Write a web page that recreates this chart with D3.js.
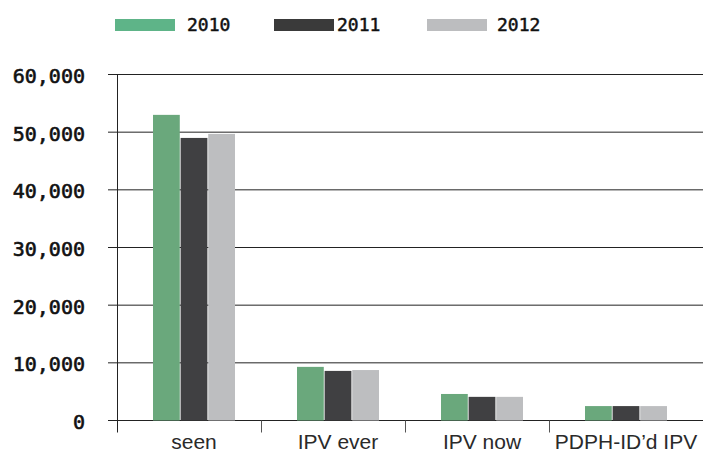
<!DOCTYPE html>
<html>
<head>
<meta charset="utf-8">
<script src="https://cdn.jsdelivr.net/npm/d3@7"></script>
<style>
  body { margin: 0; background: #fff; }
  svg { display: block; }
</style>
</head>
<body>
<div id="chart"></div>
<script>
var categories = ["seen", "IPV ever", "IPV now", "PDPH-ID\u2019d IPV"];
var years = ["2010", "2011", "2012"];
var values2010 = [53000, 9300, 4600, 2500];
var values2011 = [49000, 8600, 4100, 2500];
var values2012 = [49700, 8750, 4100, 2500];
var yTicks = [0, 10000, 20000, 30000, 40000, 50000, 60000];

var barColors = ["#6aa87c", "#404042", "#bdbec0"];
var legendColors = ["#5eb488", "#3a3a3a", "#bcbdbf"];

var width = 703, height = 452;
var plotLeft = 117, plotRight = 693, plotTop = 74.5, plotBottom = 420.5;

var svg = d3.select("#chart").append("svg")
  .attr("width", width)
  .attr("height", height);

// scales
var x0 = d3.scaleBand().domain(categories).range([plotLeft, plotRight]);
var x1 = d3.scaleBand().domain(years).range([0, 82]).paddingInner(0.03);
var y = d3.scaleLinear().domain([0, 60000]).range([plotBottom, plotTop]);

// gridlines
svg.append("g").selectAll("line")
  .data(yTicks)
  .enter().append("line")
  .attr("x1", plotLeft - 9)
  .attr("x2", width)
  .attr("y1", function(d) { return y(d); })
  .attr("y2", function(d) { return y(d); })
  .attr("stroke", "#222")
  .attr("stroke-width", 1);

// y labels
svg.append("g").selectAll("text")
  .data(yTicks)
  .enter().append("text")
  .attr("x", 85)
  .attr("y", function(d) { return y(d); })
  .attr("dy", "0.42em")
  .attr("text-anchor", "end")
  .style("font-family", "'DejaVu Sans Mono', monospace")
  .style("font-size", "20px")
  .style("fill", "#111")
  .style("stroke", "#111")
  .style("stroke-width", "0.6px")
  .text(function(d) { return d3.format(",")(d); });

// y axis line
svg.append("line")
  .attr("x1", plotLeft + 0.5).attr("x2", plotLeft + 0.5)
  .attr("y1", plotTop).attr("y2", plotBottom + 12)
  .attr("stroke", "#222");

// x ticks at category boundaries
svg.append("g").selectAll("line")
  .data(categories.slice(1))
  .enter().append("line")
  .attr("x1", function(d) { return Math.round(x0(d)) + 0.5; })
  .attr("x2", function(d) { return Math.round(x0(d)) + 0.5; })
  .attr("y1", plotBottom)
  .attr("y2", plotBottom + 12)
  .attr("stroke", "#555");

// bars
var series = [values2010, values2011, values2012];
var groups = svg.append("g").selectAll("g")
  .data(categories)
  .enter().append("g")
  .attr("transform", function(d) { return "translate(" + (x0(d) + 36) + ",0)"; });

groups.selectAll("rect")
  .data(function(d, i) { return years.map(function(yr, j) { return {year: yr, value: series[j][i], k: j}; }); })
  .enter().append("rect")
  .attr("x", function(d) { return x1(d.year); })
  .attr("y", function(d) { return y(d.value); })
  .attr("width", x1.bandwidth())
  .attr("height", function(d) { return plotBottom - y(d.value); })
  .attr("fill", function(d) { return barColors[d.k]; });

// x labels
svg.append("g").selectAll("text")
  .data(categories)
  .enter().append("text")
  .attr("x", function(d) { return x0(d) + 36 + 41; })
  .attr("y", 449)
  .attr("text-anchor", "middle")
  .style("font-family", "'Liberation Sans', Arial, sans-serif")
  .style("font-size", "21px")
  .style("fill", "#2a2a2a")
  .text(function(d) { return d; });

// legend
var legendRectX = [115, 274, 427];
var legendTextX = [187, 337, 497];
var legend = svg.append("g");
legend.selectAll("rect")
  .data(years)
  .enter().append("rect")
  .attr("x", function(d, i) { return legendRectX[i]; })
  .attr("y", 19)
  .attr("width", 60)
  .attr("height", 12)
  .attr("fill", function(d, i) { return legendColors[i]; });
legend.selectAll("text")
  .data(years)
  .enter().append("text")
  .attr("x", function(d, i) { return legendTextX[i]; })
  .attr("y", 31)
  .style("font-family", "'DejaVu Sans Mono', monospace")
  .style("font-size", "18px")
  .style("fill", "#111")
  .style("stroke", "#111")
  .style("stroke-width", "0.5px")
  .text(function(d) { return d; });
</script>
</body>
</html>
